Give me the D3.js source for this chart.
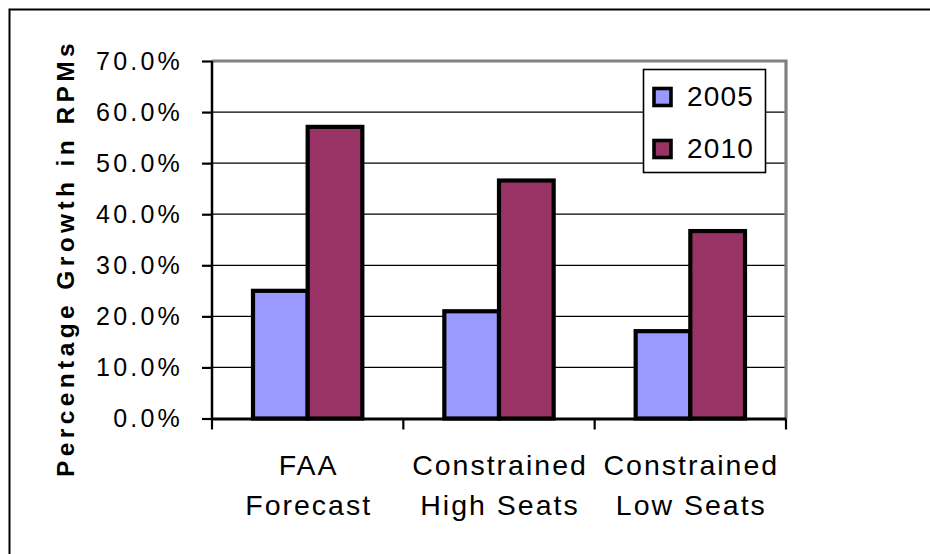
<!DOCTYPE html>
<html>
<head>
<meta charset="utf-8">
<script src="https://cdn.jsdelivr.net/npm/d3@7"></script>
<style>
  html, body { margin: 0; padding: 0; background: #fff; }
  svg { display: block; font-family: Arial, "Liberation Sans", sans-serif; }
</style>
</head>
<body>
<svg id="chart" width="930" height="554"></svg>
<script>
// Growth in revenue passenger miles by scenario
const categories = [["FAA", "Forecast"], ["Constrained", "High Seats"], ["Constrained", "Low Seats"]];
const seriesNames = ["2005", "2010"];
const values2005 = [0.25, 0.21, 0.171];
const values2010 = [0.571, 0.466, 0.367];
const yTicks = [0, 0.1, 0.2, 0.3, 0.4, 0.5, 0.6, 0.7];
const colors = ["#9999FF", "#993366"];

const svg = d3.select("#chart");

// outer frame
svg.append("rect")
  .attr("x", 9.5).attr("y", 9.5)
  .attr("width", 1000).attr("height", 1000)
  .attr("fill", "none").attr("stroke", "#000").attr("stroke-width", 2);

const plot = { left: 212, right: 786, top: 61, bottom: 418.5 };

const x0 = d3.scaleBand()
  .domain(d3.range(categories.length))
  .range([plot.left, plot.right])
  .paddingInner(0).paddingOuter(0);

// bar group occupies 2 / 3.5 of each band (150% gap)
const groupWidth = x0.bandwidth() * 2 / 3.5;
const x1 = d3.scaleBand()
  .domain(seriesNames)
  .range([0, groupWidth]);

const y = d3.scaleLinear().domain([0, 0.7]).range([plot.bottom, plot.top]);

// gridlines
svg.append("g").selectAll("line")
  .data(yTicks.filter(t => t > 0 && t < 0.7))
  .join("line")
  .attr("x1", plot.left).attr("x2", plot.right)
  .attr("y1", d => y(d)).attr("y2", d => y(d))
  .attr("stroke", "#000").attr("stroke-width", 1.3);

// plot area border (top and right)
svg.append("path")
  .attr("d", `M${plot.left},${y(0.7)}H${plot.right}V${plot.bottom}`)
  .attr("fill", "none").attr("stroke", "#808080").attr("stroke-width", 3.2);

// bars
const series = [values2005, values2010];
const groups = svg.append("g").selectAll("g")
  .data(categories.map((c, i) => i))
  .join("g")
  .attr("transform", i => `translate(${x0(i) + (x0.bandwidth() - groupWidth) / 2},0)`);

groups.selectAll("rect")
  .data(i => seriesNames.map((s, k) => ({ s, k, v: series[k][i] })))
  .join("rect")
  .attr("x", d => x1(d.s))
  .attr("y", d => y(d.v))
  .attr("width", x1.bandwidth())
  .attr("height", d => y(0) - y(d.v))
  .style("fill", d => colors[d.k])
  .style("stroke", "#000").style("stroke-width", "4.2px");

// y axis
const yAxis = d3.axisLeft(y).tickValues(yTicks).tickSize(10).tickPadding(19)
  .tickFormat(d3.format(".1%"));
const gy = svg.append("g").attr("transform", `translate(${plot.left},0)`).call(yAxis);
gy.select(".domain").attr("stroke", "#000").attr("stroke-width", 2.5)
  .attr("d", `M0,${plot.top}V${plot.bottom}`);
gy.selectAll(".tick line").attr("stroke", "#000").attr("stroke-width", 2.2);
gy.selectAll(".tick text")
  .attr("font-size", 25).attr("fill", "#000")
  .attr("letter-spacing", 3.2)
  .attr("font-family", "Arial, 'Liberation Sans', sans-serif");

// x axis
const xEdges = d3.range(categories.length + 1).map(i => plot.left + i * x0.bandwidth());
const gx = svg.append("g");
gx.append("line")
  .attr("x1", plot.left).attr("x2", plot.right)
  .attr("y1", plot.bottom + 0.5).attr("y2", plot.bottom + 0.5)
  .attr("stroke", "#000").attr("stroke-width", 2.8);
gx.selectAll(".xt").data(xEdges).join("line")
  .attr("class", "xt")
  .attr("x1", d => d).attr("x2", d => d)
  .attr("y1", plot.bottom).attr("y2", plot.bottom + 11)
  .attr("stroke", "#000").attr("stroke-width", 2.2);

const labels = gx.selectAll(".xl").data(categories).join("text")
  .attr("class", "xl")
  .attr("text-anchor", "middle")
  .attr("font-size", 28.5)
  .attr("letter-spacing", 2)
  .attr("fill", "#000");
labels.selectAll("tspan").data((d, i) => d.map(t => ({ t, i }))).join("tspan")
  .attr("x", d => x0(d.i) + x0.bandwidth() / 2 + 1)
  .attr("y", (d, j) => 475 + j * 40)
  .text(d => d.t);

// y axis title
svg.append("text")
  .attr("transform", "translate(74,258) rotate(-90)")
  .attr("text-anchor", "middle")
  .attr("font-size", 24.5).attr("font-weight", "bold")
  .attr("letter-spacing", 4.4)
  .attr("fill", "#000")
  .text("Percentage Growth in RPMs");

// legend
const legend = svg.append("g");
legend.append("rect")
  .attr("x", 643.5).attr("y", 69.5).attr("width", 122).attr("height", 103)
  .attr("fill", "#fff").attr("stroke", "#000").attr("stroke-width", 1.6);
const items = legend.selectAll(".li").data(seriesNames).join("g")
  .attr("class", "li")
  .attr("transform", (d, i) => `translate(0,${i * 52})`);
items.append("rect")
  .attr("x", 654).attr("y", 88.5).attr("width", 17).attr("height", 17)
  .style("fill", (d, i) => colors[i]).style("stroke", "#000").style("stroke-width", "3.6px");
items.append("text")
  .attr("x", 687).attr("y", 106)
  .attr("font-size", 28).attr("letter-spacing", 1.2)
  .attr("fill", "#000")
  .text(d => d);
</script>
</body>
</html>
